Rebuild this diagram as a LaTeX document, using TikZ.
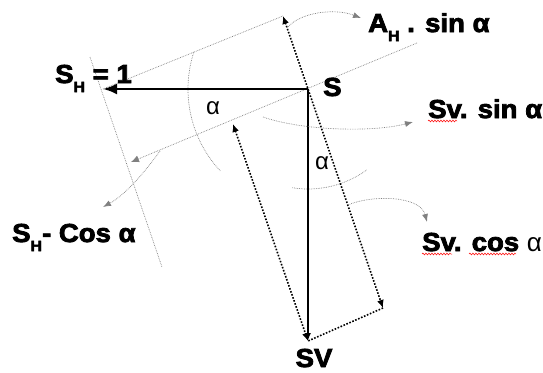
\documentclass[tikz,border=0pt]{standalone}
\usepackage{fontspec}
\setmainfont{Liberation Sans}
\newfontfamily\heavyfont[BoldFeatures={FakeBold=3, FakeStretch=1.06}]{Liberation Sans}
\usetikzlibrary{positioning,arrows.meta,decorations.pathmorphing}

\newcommand{\lowsub}[1]{\raisebox{-.35em}{\fontsize{15}{15}\selectfont #1}}

\begin{document}
\begin{tikzpicture}[
    x=1pt, y=1pt,
    lbl/.style={font=\heavyfont\bfseries\fontsize{26}{30}\selectfont, inner sep=0pt},
    ang/.style={font=\fontsize{24}{28}\selectfont, inner sep=0pt},
    vec/.style={line width=2.4pt, -{Latex[length=14pt,width=11pt]}},
    comp/.style={line width=1.6pt, dash pattern=on 1.6pt off 1.6pt},
    guide/.style={gray, line width=0.7pt, dash pattern=on 0.7pt off 1pt},
    note/.style={guide, -{Latex[length=8pt,width=6pt]}},
    tip/.style={{Latex[length=8pt,width=7pt]}-{Latex[length=8pt,width=7pt]}},
    spell/.style={red, line width=0.5pt, decorate,
                  decoration={snake, amplitude=0.9pt, segment length=3pt}}
]
\useasboundingbox (0,0) rectangle (543,-372);

% force point and the rotated frame
\coordinate (S) at (308,-89);
\coordinate (SHend) at (103,-89);
\coordinate (SVend) at (308,-341);
\coordinate (SHcos) at (131,-162);
\coordinate (tiltEnd) at (417,-43);
\coordinate (SHsin) at (283,-16);
\coordinate (SVcos) at (383,-308);
\coordinate (SVsin) at (233,-124);
\coordinate (perpTop) at (90,-57);
\coordinate (perpBot) at (162,-267);

% thin construction lines
\draw[guide] (SHend) -- (SHsin);
\draw[guide, -{Latex[length=8pt,width=7pt]}] (tiltEnd) -- (SHcos);
\draw[guide] (perpTop) -- (perpBot);
\draw[guide] (S) ++(162:120) arc[start angle=162, end angle=223, radius=120];
\draw[guide] (S) ++(261:100) arc[start angle=261, end angle=306, radius=100];

% components
\draw[comp, tip] (SHsin) -- (SVcos);
\draw[comp] (SVcos) -- (SVend);
\draw[comp, tip] (SVsin) -- (SVend);

% the two forces
\draw[vec] (S) -- (SHend);
\draw[line width=2pt, -{Latex[length=8pt,width=6pt]}] (S) -- (SVend);

% labels
\node[lbl, anchor=base west] (SHlbl) at (55,-83) {S\lowsub{H} = 1};
\node[lbl, right=15pt of S, yshift=2pt] (Slbl) {S};
\node[lbl, anchor=base, text depth=0pt] (SVlbl) at (314,-367) {SV};
\node[lbl, anchor=base west] (AHlbl) at (368,-32) {A\lowsub{H} . sin α};
\node[lbl, anchor=base west] (SVsinlbl) at (428,-118) {Sv. sin α};
\node[lbl, anchor=base west] (SVcoslbl) at (422,-251) {Sv. cos {\mdseries α}};
\node[lbl, anchor=base west] (SHcoslbl) at (12,-242) {S\lowsub{H}- Cos α};
\node[ang] (alpha1) at (213,-108) {α};
\node[ang] (alpha2) at (322,-163) {α};

% pointers to the labels
\coordinate (a1s) at (287,-28); \coordinate (a1e) at (361,-18);
\coordinate (a2s) at (263,-117); \coordinate (a2e) at (413,-122);
\coordinate (a3s) at (348,-205); \coordinate (a3e) at (427,-222);
\coordinate (a4s) at (160,-151); \coordinate (a4e) at (103,-207);
\draw[note] (a1s) .. controls (300,-12) and (335,-8) .. (a1e);
\draw[note] (a2s) .. controls (300,-130) and (370,-133) .. (a2e);
\draw[note] (a3s) .. controls (370,-195) and (420,-195) .. (a3e);
\draw[note] (a4s) .. controls (145,-172) and (125,-195) .. (a4e);

% spell-check marks
\draw[spell] (428,-121) -- (457,-121);
\draw[spell] (422,-254) -- (452,-254);
\draw[spell] (469,-254) -- (516,-254);
\end{tikzpicture}
\end{document}
